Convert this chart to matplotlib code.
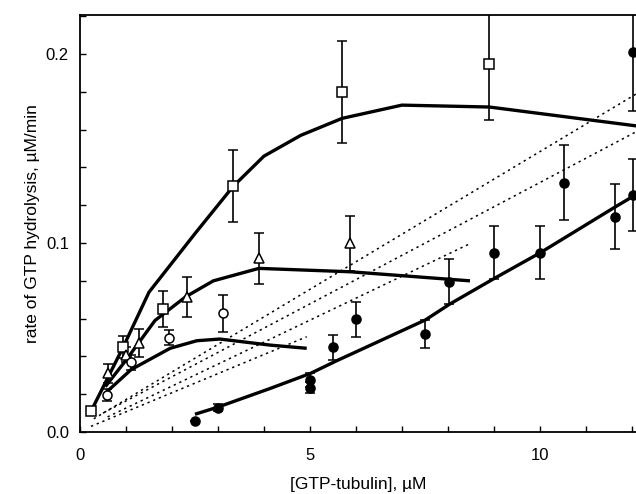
import matplotlib
matplotlib.use("Agg")
import matplotlib.pyplot as plt
from matplotlib.ticker import MultipleLocator

plt.rcParams["font.family"] = ["Liberation Sans", "DejaVu Sans"]

# open squares
sq_x = [0.24, 0.94, 1.81, 3.33, 5.7, 8.9]
sq_y = [0.011, 0.045, 0.065, 0.130, 0.180, 0.195]
sq_err = [0.0, 0.006, 0.0095, 0.019, 0.027, 0.030]
sq_fit_x = [0.24, 0.94, 1.5, 2.5, 3.33, 4.0, 4.8, 5.7, 7.0, 8.9, 12.1]
sq_fit_y = [0.011, 0.045, 0.074, 0.105, 0.130, 0.146, 0.157, 0.166, 0.173, 0.172, 0.162]

# open triangles
tri_x = [0.6, 1.0, 1.28, 2.32, 3.89, 5.88]
tri_y = [0.031, 0.041, 0.047, 0.0716, 0.092, 0.0998]
tri_err = [0.005, 0.004, 0.0075, 0.0105, 0.0135, 0.0145]
tri_fit_x = [0.55, 1.0, 1.63, 2.3, 2.9, 3.89, 5.88, 8.48]
tri_fit_y = [0.024, 0.038, 0.059, 0.0716, 0.080, 0.0866, 0.0848, 0.080]

# open circles
circ_x = [0.58, 1.11, 1.93, 3.12]
circ_y = [0.0196, 0.0369, 0.050, 0.0628]
circ_err = [0.003, 0.004, 0.004, 0.0097]
circ_fit_x = [0.57, 1.11, 1.96, 2.54, 3.04, 4.13, 4.93]
circ_fit_y = [0.021, 0.033, 0.0443, 0.0483, 0.0492, 0.046, 0.0443]

# filled circles
fill_x = [2.5, 2.99, 5.01, 5.01, 5.5, 6.01, 7.51, 8.02, 9.01, 10.01, 10.52, 11.63, 12.03, 12.03]
fill_y = [0.006, 0.0129, 0.0275, 0.0234, 0.0448, 0.0596, 0.0518, 0.0795, 0.095, 0.095,
          0.132, 0.114, 0.201, 0.1254]
fill_err = [0.0, 0.002, 0.0035, 0.003, 0.0066, 0.0093, 0.0075, 0.012, 0.014, 0.014,
            0.02, 0.017, 0.031, 0.019]
fill_fit_x = [2.5, 2.99, 4.13, 5.01, 5.58, 6.01, 7.51, 8.04, 9.01, 10.01, 11.63, 12.1]
fill_fit_y = [0.0094, 0.0131, 0.023, 0.031, 0.0377, 0.0425, 0.0593, 0.0677, 0.0813,
              0.0949, 0.119, 0.1258]

# dotted initial-rate lines (start, end)
dot_x = [(0.3, 12.1), (0.5, 12.1), (0.6, 8.49), (0.24, 4.93)]
dot_y = [(0.007, 0.179), (0.010, 0.159), (0.008, 0.0998), (0.003, 0.0504)]

fig = plt.figure(figsize=(6.36, 4.94), dpi=100)
ax = fig.add_axes([80 / 636, 62 / 494, 556 / 636, 417 / 494])

for xs, ys in zip(dot_x, dot_y):
    ax.plot(xs, ys, color="k", lw=1.1, ls=(0, (1.5, 2.5)))

for fx, fy in ((sq_fit_x, sq_fit_y), (tri_fit_x, tri_fit_y),
               (circ_fit_x, circ_fit_y), (fill_fit_x, fill_fit_y)):
    ax.plot(fx, fy, color="k", lw=2.4, solid_capstyle="butt")

ebkw = dict(ls="none", ecolor="k", elinewidth=1.2, capsize=3.5, capthick=1.2,
            markeredgecolor="k", markeredgewidth=1.1)
ax.errorbar(sq_x, sq_y, yerr=sq_err, marker="s", ms=6.5, mfc="white", **ebkw)
ax.errorbar(tri_x, tri_y, yerr=tri_err, marker="^", ms=7, mfc="white", **ebkw)
ax.errorbar(circ_x, circ_y, yerr=circ_err, marker="o", ms=6.5, mfc="white", **ebkw)
ax.errorbar(fill_x, fill_y, yerr=fill_err, marker="o", ms=6.5, mfc="k", **ebkw)

ax.set_xlim(0, 12.09)
ax.set_ylim(0, 0.2207)
ax.xaxis.set_major_locator(MultipleLocator(5))
ax.xaxis.set_minor_locator(MultipleLocator(1))
ax.yaxis.set_major_locator(MultipleLocator(0.1))
ax.yaxis.set_minor_locator(MultipleLocator(0.02))
ax.tick_params(which="both", direction="in", length=4, width=1, labelsize=12)
ax.tick_params(axis="x", pad=11.5)
ax.tick_params(axis="y", pad=8)
ax.xaxis.set_major_formatter(plt.FuncFormatter(lambda v, p: f"{v:g}"))
ax.yaxis.set_major_formatter(plt.FuncFormatter(lambda v, p: f"{v:.1f}"))
ax.spines["right"].set_visible(False)
for s in ("left", "bottom", "top"):
    ax.spines[s].set_linewidth(1.3)

ax.set_xlabel("[GTP-tubulin], \u00b5M", fontsize=12.5, labelpad=10)
ax.set_ylabel("rate of GTP hydrolysis, \u00b5M/min", fontsize=12.5, labelpad=4)

fig.savefig("out.png", dpi=100)
